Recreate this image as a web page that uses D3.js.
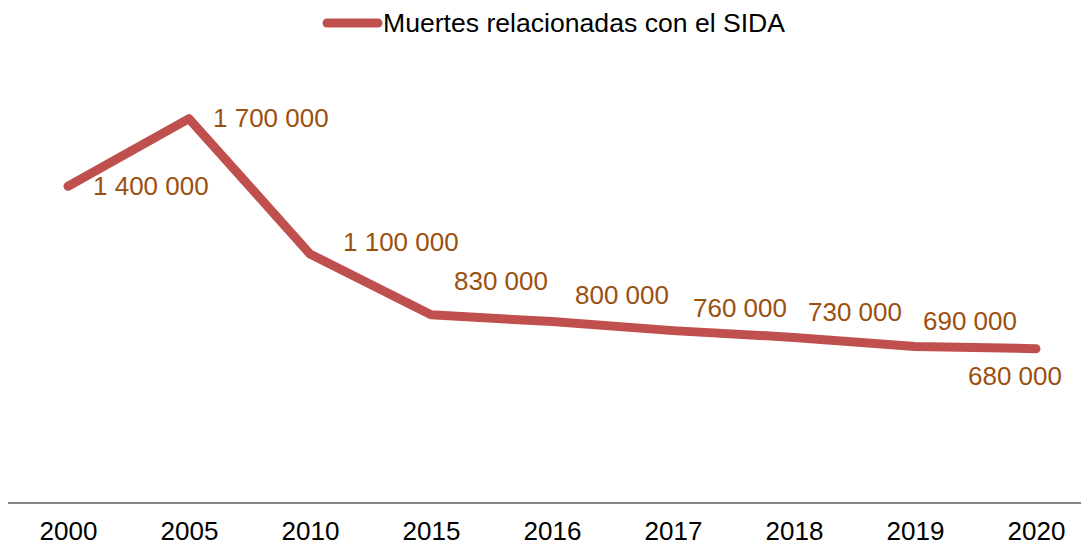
<!DOCTYPE html>
<html>
<head>
<meta charset="utf-8">
<script src="https://cdn.jsdelivr.net/npm/d3@7"></script>
<style>
  html, body { margin: 0; padding: 0; background: #ffffff; }
  svg { display: block; }
  text { font-family: "Liberation Sans", Arial, sans-serif; }
</style>
</head>
<body>
<svg id="chart" width="1081" height="546"></svg>
<script>
// ---- Data ----
const years = ["2000", "2005", "2010", "2015", "2016", "2017", "2018", "2019", "2020"];
const deaths = [1400000, 1700000, 1100000, 830000, 800000, 760000, 730000, 690000, 680000];
const valueLabels = ["1 400 000", "1 700 000", "1 100 000", "830 000", "800 000", "760 000", "730 000", "690 000", "680 000"];
const seriesName = "Muertes relacionadas con el SIDA";

// ---- Layout (label placement offsets relative to each point) ----
const labelOffsets = [
  { dx: 25, dy: 0, anchor: "start" },
  { dx: 24, dy: -1, anchor: "start" },
  { dx: 33, dy: -12, anchor: "start" },
  { dx: 70, dy: -34, anchor: "middle" },
  { dx: 70, dy: -27, anchor: "middle" },
  { dx: 67, dy: -23, anchor: "middle" },
  { dx: 61, dy: -25, anchor: "middle" },
  { dx: 55, dy: -25, anchor: "middle" },
  { dx: -21, dy: 27, anchor: "middle" }
];

const W = 1081, H = 546;
const lineColor = "#C0504D";
const labelColor = "#9C500F";

const svg = d3.select("#chart");

const x = d3.scalePoint().domain(years).range([7.5, 1096.5]).padding(0.5);
const y = d3.scaleLinear().domain([0, 2000000]).range([502, 51]);

// x axis
const xAxis = d3.axisBottom(x).tickSize(0).tickPadding(0);
const gx = svg.append("g").attr("transform", "translate(0,503)").call(xAxis);
gx.select(".domain").attr("stroke", "#898989").attr("stroke-width", 2)
  .attr("d", "M8,0H1081");
gx.selectAll(".tick text")
  .attr("font-size", 26)
  .attr("font-family", "Liberation Sans, Arial, sans-serif")
  .attr("fill", "#000")
  .attr("dy", null)
  .attr("y", 37);

// line
const line = d3.line()
  .x((d, i) => x(years[i]))
  .y(d => y(d));

svg.append("path")
  .datum(deaths)
  .attr("d", line)
  .attr("fill", "none")
  .attr("stroke", lineColor)
  .attr("stroke-width", 9)
  .attr("stroke-linejoin", "round")
  .attr("stroke-linecap", "round");

// data labels
svg.append("g").selectAll("text")
  .data(deaths)
  .join("text")
  .attr("x", (d, i) => x(years[i]) + labelOffsets[i].dx)
  .attr("y", (d, i) => y(d) + labelOffsets[i].dy + 9)
  .attr("text-anchor", (d, i) => labelOffsets[i].anchor)
  .attr("font-size", 26)
  .attr("fill", labelColor)
  .text((d, i) => valueLabels[i]);

// legend
const lg = svg.append("g");
lg.append("line")
  .attr("x1", 327).attr("x2", 378)
  .attr("y1", 23).attr("y2", 23)
  .attr("stroke", lineColor)
  .attr("stroke-width", 9)
  .attr("stroke-linecap", "round");
lg.append("text")
  .attr("x", 383).attr("y", 32)
  .attr("font-size", 26.6)
  .attr("fill", "#000")
  .text(seriesName);
</script>
</body>
</html>
